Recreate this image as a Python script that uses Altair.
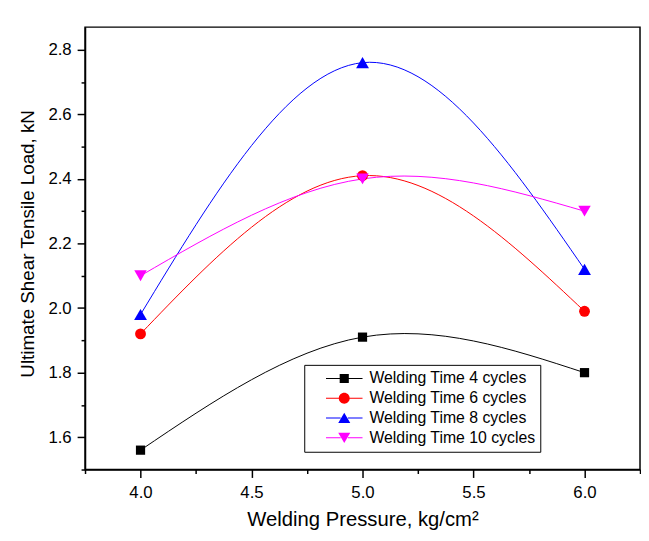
import altair as alt
import pandas as pd

pressure = [4.0, 5.0, 6.0]
series_names = ["Welding Time 4 cycles", "Welding Time 6 cycles",
                "Welding Time 8 cycles", "Welding Time 10 cycles"]
load_4 = [1.56, 1.91, 1.80]
load_6 = [1.92, 2.41, 1.99]
load_8 = [1.98, 2.76, 2.12]
load_10 = [2.10, 2.40, 2.30]

colors = ["#000000", "#ff0000", "#0000ff", "#ff00ff"]
shapes = ["square", "circle", "triangle-up", "triangle-down"]
marker_sizes = [87, 121, 169, 160]
# legend glyphs: short line on both sides of the marker (all filled, unit box -1..1)
seg = "M-1,-0.028H-0.2V0.028H-1ZM0.2,-0.028H1V0.028H0.2Z"
legend_paths = [
    seg + "M-0.25,-0.25H0.25V0.25H-0.25Z",
    seg + "M-0.3,0A0.3,0.3 0 1,1 0.3,0A0.3,0.3 0 1,1 -0.3,0Z",
    seg + "M0,-0.29L0.33,0.27L-0.33,0.27Z",
    seg + "M0,0.29L-0.33,-0.27L0.33,-0.27Z",
]
x_ticks = [3.75, 4.0, 4.25, 4.5, 4.75, 5.0, 5.25, 5.5, 5.75, 6.0, 6.25]
y_ticks = [1.5, 1.6, 1.7, 1.8, 1.9, 2.0, 2.1, 2.2, 2.3, 2.4, 2.5, 2.6, 2.7, 2.8]

rows = []
for name, vals in zip(series_names, [load_4, load_6, load_8, load_10]):
    for p, v in zip(pressure, vals):
        rows.append({"pressure": p, "load": v, "series": name})
df = pd.DataFrame(rows)

FONT = "Liberation Sans"

x_enc = alt.X(
    "pressure:Q",
    scale=alt.Scale(domain=[3.75, 6.25], nice=False, zero=False),
    axis=alt.Axis(
        values=x_ticks,
        title="Welding Pressure, kg/cm²",
        labelExpr="round(datum.value*4)%2==0 ? format(datum.value,'.1f') : ''",
        tickSize={"condition": {"test": "round(datum.value*4)%2==0", "value": 8}, "value": 4},
        labelPadding=7,
        labelFontSize=17,
        titleFontSize=20.5,
        titleY=51,
        titleBaseline="middle",
    ),
)
y_enc = alt.Y(
    "load:Q",
    scale=alt.Scale(domain=[1.5, 2.87], nice=False, zero=False),
    axis=alt.Axis(
        values=y_ticks,
        title="Ultimate Shear Tensile Load, kN",
        labelExpr="round(datum.value*10)%2==0 ? format(datum.value,'.1f') : ''",
        tickSize={"condition": {"test": "round(datum.value*10)%2==0", "value": 8}, "value": 4},
        labelPadding=6,
        labelFontSize=17,
        titleFontSize=19,
        titleX=-58,
        titleY=219,
        titleBaseline="middle",
        titleAlign="center",
    ),
)

lines = alt.Chart(df).mark_line(interpolate="natural", strokeWidth=1).encode(
    x=x_enc, y=y_enc,
    color=alt.Color("series:N", scale=alt.Scale(domain=series_names, range=colors), legend=None),
    detail="series:N",
)

point_layers = []
for name, col, shp, sz in zip(series_names, colors, shapes, marker_sizes):
    point_layers.append(
        alt.Chart(df).transform_filter(alt.datum.series == name).mark_point(
            filled=True, opacity=1, shape=shp, size=sz, color=col
        ).encode(x=x_enc, y=y_enc)
    )

legend_cfg = alt.Legend(
    title=None, orient="none", legendX=222, legendY=342,
    symbolSize=1369, symbolStrokeWidth=0, clipHeight=19.7, rowPadding=0,
    padding=4, labelOffset=7, symbolOffset=18,
    labelFont=FONT, labelFontSize=16, labelColor="black", labelLimit=400,
    labelExpr="datum.label + '\u00a0\u00a0\u00a0\u00a0\u00a0\u00a0\u00a0'",
    strokeColor="black", fillColor="white",
)

legend_layer = alt.Chart(df).transform_filter("false").mark_point(filled=True, opacity=1).encode(
    x=x_enc, y=y_enc,
    color=alt.Color("series:N", scale=alt.Scale(domain=series_names, range=colors), legend=legend_cfg),
    shape=alt.Shape("series:N", scale=alt.Scale(domain=series_names, range=legend_paths), legend=legend_cfg),
)

chart = alt.layer(lines, *point_layers, legend_layer).resolve_scale(
    color="independent", shape="independent"
).properties(
    width=562, height=448,
    autosize=alt.AutoSizeParams(type="none"),
    padding={"left": 78, "top": 16, "right": 1, "bottom": 69},
).configure_axis(
    labelFont=FONT, titleFont=FONT, labelColor="black", titleColor="black",
    domainColor="black", tickColor="black", domainWidth=1.5, tickWidth=1.5,
    grid=False, titleFontWeight="normal",
).configure_view(stroke="black", strokeWidth=1.5)

chart.save("out.html", embed_options={"renderer": "svg", "actions": False})
